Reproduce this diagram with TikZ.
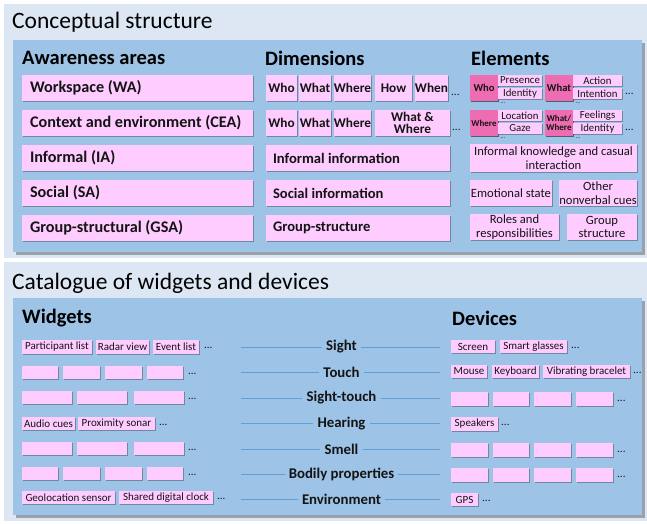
\documentclass[tikz,border=0pt]{standalone}
\usepackage{fontspec}
\setmainfont{Carlito}
\usetikzlibrary{shadows}
\definecolor{lightpanel}{RGB}{221,231,243}
\definecolor{bluebox}{RGB}{157,195,230}
\definecolor{pinkl}{RGB}{255,204,255}
\definecolor{pinkd}{RGB}{238,108,178}
\definecolor{linec}{RGB}{96,158,214}
\definecolor{txt}{RGB}{20,20,20}
\newcommand\fsTitle{\fontsize{23.5}{26}\selectfont}
\newcommand\fsHead{\bfseries\fontsize{20.5}{23}\selectfont}
\newcommand\fsArea{\bfseries\fontsize{16.2}{18}\selectfont}
\newcommand\fsDim{\bfseries\fontsize{13.3}{12.5}\selectfont}
\newcommand\fsDimL{\bfseries\fontsize{14.6}{16}\selectfont}
\newcommand\fsElem{\fontsize{12.6}{13.5}\selectfont}
\newcommand\fsSub{\fontsize{10.8}{11}\selectfont}
\newcommand\fsSmall{\fontsize{11}{12}\selectfont}
\newcommand\fsTiny{\fontsize{6}{6}\selectfont}
\newcommand\fsLab{\bfseries\fontsize{14.8}{16}\selectfont}
\newcommand\fsDark{\bfseries\fontsize{10.6}{12}\selectfont}
\newcommand\fsDarkS{\bfseries\fontsize{9}{9.5}\selectfont}
% box by corners: [opts]{name}{x1}{y1}{x2}{y2}{text}
\newcommand\PB[7][]{\node[pbox,#1,minimum width={(#5-#3)*1pt},minimum height={(#6-#4)*1pt}] (#2) at ({(#3+#5)/2},{(#4+#6)/2}) {#7};}
\begin{document}
\begin{tikzpicture}[x=1pt,y=-1pt,
  pbox/.style={fill=pinkl,inner sep=0pt,align=center,text=txt,
    drop shadow={shadow xshift=1.2pt,shadow yshift=-1.2pt,opacity=0.3,fill=black}},
  dbox/.style={pbox,fill=pinkd,font=\fsDark},
  areatxt/.style={anchor=west,font=\fsArea,text=txt,inner sep=0pt},
  dimtxt/.style={anchor=west,font=\fsDimL,text=txt,inner sep=0pt},
  dots/.style={anchor=west,font=\fsSmall,text=txt,inner sep=0pt},
  tdots/.style={font=\fsTiny,text=txt,inner sep=0pt},
  head/.style={anchor=west,font=\fsHead,text=black,inner sep=0pt},
  title/.style={anchor=west,font=\fsTitle,text=black,inner sep=0pt},
  lab/.style={font=\fsLab,text=txt,inner xsep=4pt,inner ysep=1pt},
  conn/.style={draw=linec,line width=0.6pt}]
\useasboundingbox (0,0) rectangle (647,524);
% ---------- upper section
\fill[lightpanel] (4,4) rectangle (647,258);
\fill[black,opacity=0.3] (16,43) rectangle (645,255);
\fill[bluebox] (13,40) rectangle (642,252);
\node[title] (t1) at (12,22) {Conceptual structure};
\node[head] (h1) at (22,58) {Awareness areas};
\node[head] (h2) at (265,58) {Dimensions};
\node[head] (h3) at (471,58) {Elements};
% awareness areas
\PB{wa}{22}{75}{253}{101}{}
\PB{cea}{22}{110}{253}{136}{}
\PB{ia}{22}{145}{253}{171}{}
\PB{sa}{22}{180}{253}{206}{}
\PB{gsa}{22}{215}{253}{241}{}
\node[areatxt] (waT) at ([xshift=8pt]wa.west) {Workspace (WA)};
\node[areatxt] (ceaT) at ([xshift=8pt]cea.west) {Context and environment (CEA)};
\node[areatxt] (iaT) at ([xshift=8pt]ia.west) {Informal (IA)};
\node[areatxt] (saT) at ([xshift=8pt]sa.west) {Social (SA)};
\node[areatxt] (gsaT) at ([xshift=8pt]gsa.west) {Group-structural (GSA)};
% dimensions
\PB[font=\fsDim]{dwho1}{266}{75}{297}{101}{Who}
\PB[font=\fsDim]{dwhat1}{299}{75}{331}{101}{What}
\PB[font=\fsDim]{dwhere1}{334}{75}{371}{101}{Where}
\PB[font=\fsDim]{dhow1}{375}{75}{412}{101}{How}
\PB[font=\fsDim]{dwhen1}{415}{75}{448}{101}{When}
\node[dots] (ddots1) at (451,95) {...};
\PB[font=\fsDim]{dwho2}{266}{110}{297}{136}{Who}
\PB[font=\fsDim]{dwhat2}{299}{110}{331}{136}{What}
\PB[font=\fsDim]{dwhere2}{334}{110}{371}{136}{Where}
\PB[font=\fsDim]{dww2}{375}{110}{450}{136}{What \&\\Where}
\node[dots] (ddots2) at (452,130) {...};
\PB{dinf}{266}{145}{450}{171}{}
\PB{dsoc}{266}{180}{450}{206}{}
\PB{dgrp}{266}{215}{450}{241}{}
\node[dimtxt] (dinfT) at ([xshift=7pt]dinf.west) {Informal information};
\node[dimtxt] (dsocT) at ([xshift=7pt]dsoc.west) {Social information};
\node[dimtxt] (dgrpT) at ([xshift=7pt]dgrp.west) {Group-structure};
% elements
\PB[dbox]{ewho}{470}{75}{498}{101}{Who}
\PB[font=\fsSub]{epres}{498}{75}{542}{86}{Presence}
\PB[font=\fsSub]{eiden}{498}{88}{542}{99}{Identity}
\node[tdots] (ed1) at (503,103.5) {...};
\PB[dbox]{ewhat}{545}{75}{573}{101}{What}
\PB[font=\fsSub]{eact}{573}{75}{622}{86}{Action}
\PB[font=\fsSub]{eint}{573}{88}{622}{99}{Intention}
\node[tdots] (ed2) at (578,103.5) {...};
\node[dots] (ed3) at (625,94) {...};
\PB[dbox,font=\fsDarkS]{ewhere}{470}{110}{498}{136}{Where}
\PB[font=\fsSub]{eloc}{498}{110}{542}{121}{Location}
\PB[font=\fsSub]{egaze}{498}{123}{542}{134}{Gaze}
\node[tdots] (ed4) at (503,138.5) {...};
\PB[dbox,font=\fsDarkS]{eww}{545}{110}{573}{136}{What/\\Where}
\PB[font=\fsSub]{efeel}{573}{110}{622}{121}{Feelings}
\PB[font=\fsSub]{eiden2}{573}{123}{622}{134}{Identity}
\node[tdots] (ed5) at (578,138.5) {...};
\node[dots] (ed6) at (625,130) {...};
\PB[font=\fsElem]{einf}{470}{144}{637}{172}{Informal knowledge and casual\\interaction}
\PB[font=\fsElem]{eemo}{470}{180}{552}{206}{Emotional state}
\PB[font=\fsElem]{eonv}{559}{180}{637}{206}{Other\\nonverbal cues}
\PB[font=\fsElem]{erol}{470}{214}{559}{240}{Roles and\\responsibilities}
\PB[font=\fsElem]{egst}{567}{214}{637}{240}{Group\\structure}
% ---------- lower section
\fill[lightpanel] (4,262) rectangle (647,521);
\fill[black,opacity=0.3] (16,301) rectangle (645,518);
\fill[bluebox] (13,298) rectangle (642,515);
\node[title] (t2) at (12,283) {Catalogue of widgets and devices};
\node[head] (h4) at (22,318) {Widgets};
\node[head] (h5) at (452,318) {Devices};
% widgets
\PB[font=\fsSmall]{w11}{22}{340}{92}{354}{Participant list}
\PB[font=\fsSmall]{w12}{96}{340}{149}{354}{Radar view}
\PB[font=\fsSmall]{w13}{153}{340}{199}{354}{Event list}
\node[dots] (wd1) at (204,348) {...};
\foreach \a/\b [count=\k] in {22/58,63/100,105/142,147/183}{\PB{w2\k}{\a}{366}{\b}{379}{}}
\node[dots] (wd2) at (188,374) {...};
\foreach \a/\b [count=\k] in {22/72,77/127,134/184}{\PB{w3\k}{\a}{391}{\b}{404}{}}
\node[dots] (wd3) at (188,399) {...};
\PB[font=\fsSmall]{w41}{22}{417}{75}{430}{Audio cues}
\PB[font=\fsSmall]{w42}{78}{417}{155}{430}{Proximity sonar}
\node[dots] (wd4) at (159,425) {...};
\foreach \a/\b [count=\k] in {22/72,77/127,134/184}{\PB{w5\k}{\a}{442}{\b}{455}{}}
\node[dots] (wd5) at (188,450) {...};
\foreach \a/\b [count=\k] in {22/58,63/100,105/142,147/183}{\PB{w6\k}{\a}{467}{\b}{480}{}}
\node[dots] (wd6) at (188,475) {...};
\PB[font=\fsSmall]{w71}{22}{491}{115}{504}{Geolocation sensor}
\PB[font=\fsSmall]{w72}{119}{491}{213}{504}{Shared digital clock}
\node[dots] (wd7) at (217,499) {...};
% senses
\foreach \n/\t/\y in {s1/Sight/347,s2/Touch/372.5,s3/Sight-touch/398,s4/Hearing/423.5,s5/Smell/449,s6/Bodily properties/474.5,s7/Environment/499.5}{
  \node[lab] (\n) at (341.5,\y) {\t};
  \coordinate (\n L) at (241,\y);
  \coordinate (\n R) at (440,\y);
  \draw[conn] (\n L) -- (\n);
  \draw[conn] (\n) -- (\n R);
}
% devices
\PB[font=\fsSmall]{v11}{451}{340}{495}{353}{Screen}
\PB[font=\fsSmall]{v12}{500}{340}{567}{353}{Smart glasses}
\node[dots] (vd1) at (571,348) {...};
\PB[font=\fsSmall]{v21}{451}{365}{487}{378}{Mouse}
\PB[font=\fsSmall]{v22}{492}{365}{539}{378}{Keyboard}
\PB[font=\fsSmall]{v23}{543}{365}{630}{378}{Vibrating bracelet}
\node[dots] (vd2) at (633,373) {...};
\foreach \a/\b [count=\k] in {451/488,493/529,534/571,576/613}{\PB{v3\k}{\a}{392}{\b}{406}{}}
\node[dots] (vd3) at (617,401) {...};
\PB[font=\fsSmall]{v41}{451}{417}{498}{431}{Speakers}
\node[dots] (vd4) at (501,425) {...};
\foreach \a/\b [count=\k] in {451/488,493/529,534/571,576/613}{\PB{v5\k}{\a}{443}{\b}{457}{}}
\node[dots] (vd5) at (617,452) {...};
\foreach \a/\b [count=\k] in {451/488,493/529,534/571,576/613}{\PB{v6\k}{\a}{468}{\b}{482}{}}
\node[dots] (vd6) at (617,477) {...};
\PB[font=\fsSmall]{v71}{451}{493}{478}{506}{GPS}
\node[dots] (vd7) at (482,501) {...};
\end{tikzpicture}
\end{document}
